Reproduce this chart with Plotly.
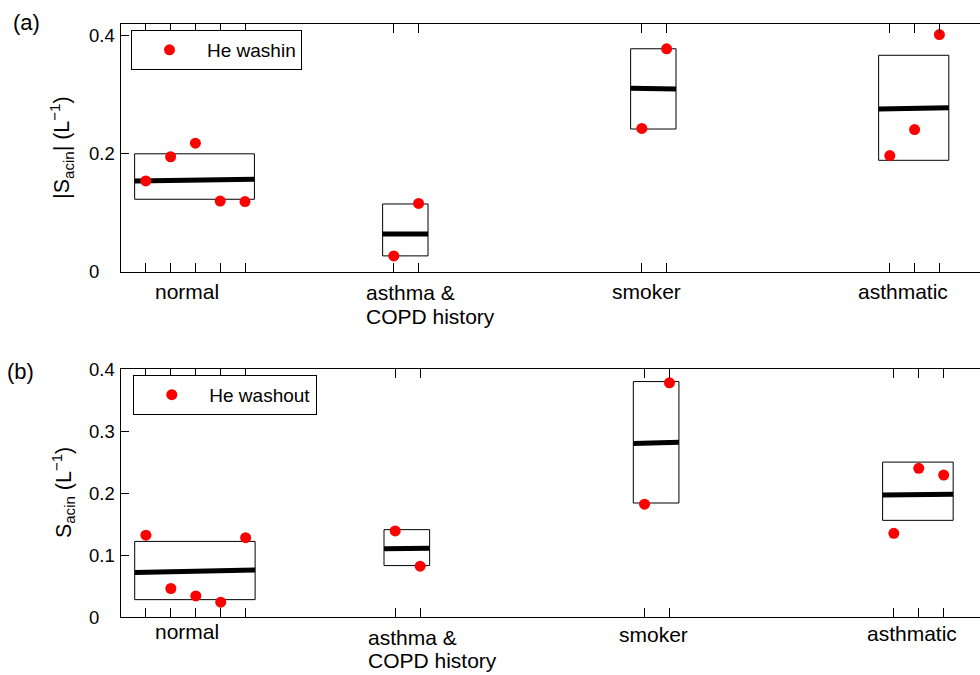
import plotly.graph_objects as go

# ---------------- data ----------------
groups = ["normal", "asthma &<br>COPD history", "smoker", "asthmatic"]
subject_x = [[1, 2, 3, 4, 5], [11, 12], [21, 22], [31, 32, 33]]

# (a) He washin  |S_acin|
washin_values = [[0.154, 0.195, 0.218, 0.120, 0.119],
                 [0.027, 0.116],
                 [0.243, 0.378],
                 [0.197, 0.241, 0.402]]
washin_box_low = [0.123, 0.027, 0.242, 0.189]
washin_box_high = [0.200, 0.115, 0.378, 0.367]
washin_median_start = [0.154, 0.064, 0.311, 0.276]
washin_median_end = [0.157, 0.064, 0.310, 0.278]

# (b) He washout  S_acin
washout_values = [[0.132, 0.046, 0.034, 0.024, 0.128],
                  [0.139, 0.082],
                  [0.182, 0.378],
                  [0.135, 0.240, 0.229]]
washout_box_low = [0.028, 0.083, 0.184, 0.156]
washout_box_high = [0.122, 0.141, 0.380, 0.250]
washout_median_start = [0.072, 0.110, 0.280, 0.197]
washout_median_end = [0.076, 0.111, 0.282, 0.198]

ytick_a = [0, 0.2, 0.4]
ytick_b = [0, 0.1, 0.2, 0.3, 0.4]

# ---------------- layout / style constants ----------------
W, H = 980, 675
ML, MR, MT, MB = 121, 0, 24, 58.3
PW = W - ML - MR
PH = H - MT - MB
FONT = "Liberation Sans, Arial, Helvetica, sans-serif"
BOX_PAD_L, BOX_PAD_R = 0.45, 0.38

# label anchor positions (x in data units, extra y shift px)
label_x_a = [1.43, 9.92, 19.84, 29.74]
label_dy_a = [-5.9, -7.6, -5.9, -5.9]
label_x_b = [1.40, 9.93, 20.0, 29.95]
label_dy_b = [-0.9, -6.9, -4.3, -2.6]


def px_to_paper_y(py):
    return 1 - (py - MT) / PH


fig = go.Figure()


def add_panel(values, lo, hi, m0, m1, name, xr, yr, legend_id):
    for i, xs in enumerate(subject_x):
        left = xs[0] - BOX_PAD_L
        right = xs[-1] + BOX_PAD_R
        fig.add_trace(go.Scatter(
            x=[left, right, right, left, left],
            y=[lo[i], lo[i], hi[i], hi[i], lo[i]],
            mode="lines", line=dict(color="black", width=1),
            showlegend=False, hoverinfo="skip", xaxis=xr, yaxis=yr))
        fig.add_trace(go.Scatter(
            x=[left, right], y=[m0[i], m1[i]],
            mode="lines", line=dict(color="black", width=5),
            showlegend=False, hoverinfo="skip", xaxis=xr, yaxis=yr))
    px, py = [], []
    for xs, vs in zip(subject_x, values):
        px += xs
        py += vs
    fig.add_trace(go.Scatter(
        x=px, y=py, mode="markers", name=name,
        marker=dict(color="#ff0000", size=11, line=dict(width=0)),
        xaxis=xr, yaxis=yr, legend=legend_id))


add_panel(washin_values, washin_box_low, washin_box_high,
          washin_median_start, washin_median_end, "He washin", "x", "y", "legend")
add_panel(washout_values, washout_box_low, washout_box_high,
          washout_median_start, washout_median_end, "He washout", "x2", "y2", "legend2")

all_ticks = [v for xs in subject_x for v in xs]
dom_a = [(H - MB - 271.7) / PH, 1.0]
dom_b = [0.0, (H - MB - 369.0) / PH]

axis_common = dict(showgrid=False, zeroline=False, showline=True,
                   linecolor="black", linewidth=1, ticks="inside",
                   tickcolor="black", tickwidth=1)

fig.update_layout(
    width=W, height=H,
    margin=dict(l=ML, r=MR, t=MT, b=MB, pad=0),
    paper_bgcolor="white", plot_bgcolor="white",
    font=dict(family=FONT, color="black", size=19),
    xaxis=dict(domain=[0, 1], range=[0, PW / 24.8], anchor="y",
               tickvals=all_ticks, showticklabels=False, ticklen=9,
               mirror="ticks", **axis_common),
    yaxis=dict(domain=dom_a, range=[0, 0.42], anchor="x",
               tickvals=ytick_a, showticklabels=False, ticklen=8,
               mirror=False, **axis_common),
    xaxis2=dict(domain=[0, 1], range=[0, PW / 24.93], anchor="y2",
                tickvals=all_ticks, showticklabels=False, ticklen=9,
                mirror="ticks", **axis_common),
    yaxis2=dict(domain=dom_b, range=[0, 0.4], anchor="x2",
                tickvals=ytick_b, showticklabels=False, ticklen=8,
                mirror=False, **axis_common),
    legend=dict(x=(131 - ML) / PW, y=px_to_paper_y(30), xanchor="left",
                yanchor="top", bordercolor="black", borderwidth=1,
                bgcolor="white", font=dict(size=19, family=FONT),
                itemwidth=65),
    legend2=dict(x=(133.3 - ML) / PW, y=px_to_paper_y(374.7), xanchor="left",
                 yanchor="top", bordercolor="black", borderwidth=1,
                 bgcolor="white", font=dict(size=19, family=FONT),
                 itemwidth=65),
    showlegend=True,
)

ann = []
# y tick labels (left aligned as in the original)
for yref, ticks in (("y", ytick_a), ("y2", ytick_b)):
    for t in ticks:
        ann.append(dict(x=0, xref="paper", xanchor="left", xshift=89 - ML - 2,
                        y=t, yref=yref, yanchor="middle", showarrow=False,
                        text=f"{t:g}", font=dict(size=18.5, family=FONT)))

# y titles
ann.append(dict(x=0, xref="paper", xshift=62 - ML, xanchor="center",
                y=0.5, yref="y domain", yanchor="middle", textangle=-90,
                showarrow=False, font=dict(size=21.5, family=FONT),
                text="|S<sub>acin</sub>| (L<sup>−1</sup>)"))
ann.append(dict(x=0, xref="paper", xshift=63 - ML, xanchor="center",
                y=0.5, yref="y2 domain", yanchor="middle", textangle=-90,
                showarrow=False, font=dict(size=21.5, family=FONT),
                text="S<sub>acin</sub> (L<sup>−1</sup>)"))

# panel letters
ann.append(dict(x=0, xref="paper", xshift=13 - ML - 2, xanchor="left",
                y=1, yref="paper", yshift=(MT - 22.5), yanchor="middle",
                showarrow=False, text="(a)", font=dict(size=22, family=FONT)))
ann.append(dict(x=0, xref="paper", xshift=7 - ML - 2, xanchor="left",
                y=1, yref="y2 domain", yshift=(369 - 371), yanchor="middle",
                showarrow=False, text="(b)", font=dict(size=22, family=FONT)))

# category labels
for xref, yref, lx, ldy in (("x", "y", label_x_a, label_dy_a),
                            ("x2", "y2", label_x_b, label_dy_b)):
    for g, x0, dy in zip(groups, lx, ldy):
        for k, line in enumerate(g.split("<br>")):
            ann.append(dict(x=x0, xref=xref, xanchor="left", xshift=-3,
                            y=0, yref=yref, yanchor="top", yshift=dy - 23.3 * k,
                            showarrow=False, text=line,
                            font=dict(size=21, family=FONT)))

fig.update_layout(annotations=ann)

fig.write_html("out.html")
